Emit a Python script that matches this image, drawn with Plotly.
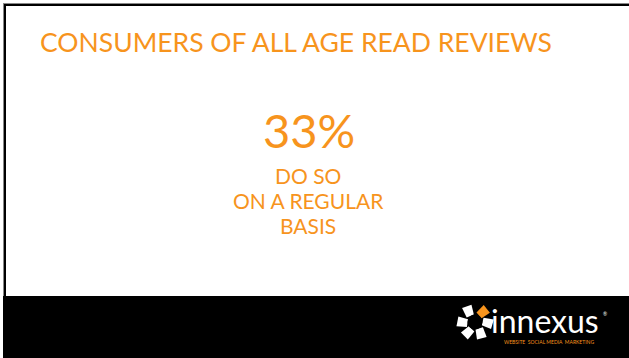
import numpy as np
import plotly.graph_objects as go

# ---- data ----
title_text = "CONSUMERS OF ALL AGE READ REVIEWS"
stat_value = 33
stat_label_lines = ["DO SO", "ON A REGULAR", "BASIS"]
brand_name = "innexus"
brand_tagline = "WEBSITE  SOCIAL MEDIA  MARKETING"

ORANGE = "#F7941D"
W, H = 629, 358

fig = go.Figure()
shapes = []

# slide frame (grey outer edge + black border)
shapes.append(dict(type="rect", x0=3, x1=W, y0=3, y1=6, fillcolor="#000000", line_width=0, layer="above"))
shapes.append(dict(type="rect", x0=3, x1=6, y0=3, y1=296, fillcolor="#000000", line_width=0, layer="above"))
shapes.append(dict(type="rect", x0=3, x1=W, y0=3, y1=4, fillcolor="#888888", line_width=0, layer="above"))
shapes.append(dict(type="rect", x0=3, x1=4, y0=3, y1=296, fillcolor="#888888", line_width=0, layer="above"))
# footer band
shapes.append(dict(type="rect", x0=3, x1=W, y0=296, y1=H, fillcolor="#000000", line_width=0, layer="above"))

# logo icon: petals around a center
cx, cy = 475, 322
petal_angles = [125, 55, 185, 240, 300, 0]
petal_colors = ["white", ORANGE, "white", "white", "white", "white"]
for ang, col in zip(petal_angles, petal_colors):
    a = np.deg2rad(ang)
    half = np.deg2rad(26)
    r1, r2 = 7.5, 17.5
    pts = []
    for rr, aa in [(r1, a - half), (r2, a - half * 0.9), (r2 + 1.5, a + half * 0.3), (r1 + 2, a + half)]:
        pts.append((cx + rr * np.cos(aa), cy - rr * np.sin(aa)))
    path = "M " + " L ".join(f"{x:.2f},{y:.2f}" for x, y in pts) + " Z"
    shapes.append(dict(type="path", path=path, fillcolor=col, line_width=0, layer="above"))
shapes.append(dict(type="circle", x0=cx - 7.5, x1=cx + 7.5, y0=cy - 7.5, y1=cy + 7.5,
                   fillcolor="#000000", line_width=0, layer="above"))

annotations = []
annotations.append(dict(x=38, y=42, text=title_text, showarrow=False, xanchor="left", yanchor="middle",
                        font=dict(family="Lato", size=26.5, color=ORANGE)))
annotations.append(dict(x=309, y=130, text=f"{stat_value}%", showarrow=False, xanchor="center", yanchor="middle",
                        font=dict(family="Lato", size=47, color=ORANGE)))
for i, line in enumerate(stat_label_lines):
    annotations.append(dict(x=308, y=175 + 25 * i, text=line, showarrow=False, xanchor="center", yanchor="middle",
                            font=dict(family="Lato", size=21, color=ORANGE)))
annotations.append(dict(x=489, y=320, text=brand_name, showarrow=False, xanchor="left", yanchor="middle",
                        font=dict(family="Lato", size=32, color="white")))
annotations.append(dict(x=601, y=314, text="®", showarrow=False, xanchor="left", yanchor="middle",
                        font=dict(family="Lato", size=5, color="white")))
annotations.append(dict(x=549, y=342, text=brand_tagline, showarrow=False, xanchor="center", yanchor="middle",
                        font=dict(family="Lato", size=5, color=ORANGE)))

fig.update_layout(
    width=W, height=H, margin=dict(l=0, r=0, t=0, b=0),
    paper_bgcolor="white", plot_bgcolor="white",
    xaxis=dict(range=[0, W], visible=False, fixedrange=True),
    yaxis=dict(range=[H, 0], visible=False, fixedrange=True),
    shapes=shapes, annotations=annotations, showlegend=False,
)
fig.write_html("out.html", config={"displayModeBar": False})
